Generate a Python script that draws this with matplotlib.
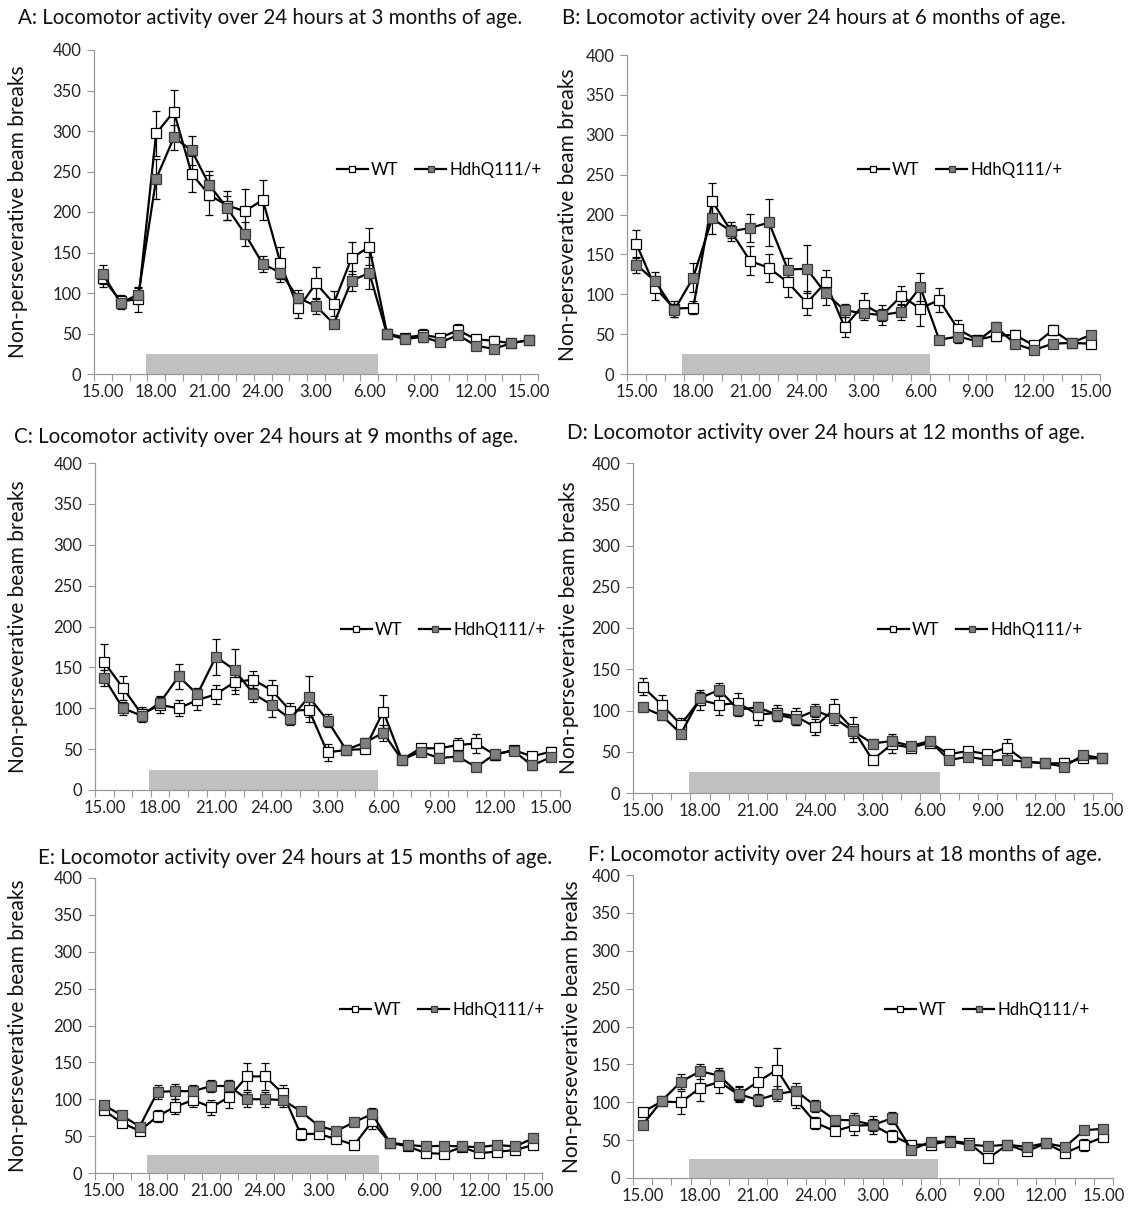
import numpy as np
import matplotlib
matplotlib.use("Agg")
import matplotlib.pyplot as plt
from matplotlib.lines import Line2D

plt.rcParams['font.family'] = ['Lato', 'DejaVu Sans']

hour_labels = ["15.00", "18.00", "21.00", "24.00", "3.00", "6.00", "9.00", "12.00", "15.00"]
n_bins = 25

titles = [
    "A: Locomotor activity over 24 hours at 3 months of age.",
    "B: Locomotor activity over 24 hours at 6 months of age.",
    "C: Locomotor activity over 24 hours at 9 months of age.",
    "D: Locomotor activity over 24 hours at 12 months of age.",
    "E: Locomotor activity over 24 hours at 15 months of age.",
    "F: Locomotor activity over 24 hours at 18 months of age.",
]

# mean beam breaks per hour bin, WT and HdhQ111/+
wt_3m = [118, 90, 92, 297, 324, 247, 221, 208, 201, 215, 137, 81, 112, 87, 143, 157, 50, 45, 48, 45, 54, 43, 41, 38, 42]
hdh_3m = [123, 88, 98, 241, 292, 276, 233, 205, 173, 136, 125, 94, 84, 62, 115, 125, 49, 43, 46, 39, 48, 35, 31, 38, 42]
wt_3m_err = [10, 8, 15, 28, 27, 22, 25, 18, 28, 25, 20, 12, 20, 15, 20, 23, 5, 5, 8, 5, 8, 5, 6, 5, 4]
hdh_3m_err = [12, 8, 8, 25, 15, 18, 18, 15, 15, 10, 12, 10, 10, 5, 12, 20, 5, 5, 5, 5, 5, 5, 5, 4, 4]

wt_6m = [163, 108, 82, 83, 217, 179, 142, 133, 115, 89, 115, 59, 87, 74, 98, 82, 93, 56, 43, 48, 49, 36, 55, 39, 38]
hdh_6m = [137, 116, 80, 121, 195, 179, 183, 190, 131, 132, 101, 80, 76, 74, 78, 109, 43, 47, 41, 59, 38, 30, 38, 39, 49]
wt_6m_err = [18, 15, 10, 8, 22, 12, 18, 18, 18, 15, 15, 12, 15, 12, 12, 22, 15, 12, 6, 6, 6, 5, 6, 5, 5]
hdh_6m_err = [10, 12, 8, 18, 20, 8, 18, 30, 15, 30, 15, 8, 8, 8, 10, 18, 5, 8, 5, 6, 5, 5, 5, 4, 5]

wt_9m = [156, 125, 93, 104, 100, 110, 117, 132, 135, 122, 97, 98, 46, 49, 50, 96, 37, 51, 51, 55, 57, 43, 49, 41, 47]
hdh_9m = [137, 100, 91, 107, 139, 117, 163, 147, 118, 104, 87, 114, 85, 49, 58, 70, 37, 47, 39, 41, 28, 44, 48, 30, 40]
wt_9m_err = [22, 15, 8, 10, 10, 12, 12, 15, 10, 12, 10, 15, 10, 5, 5, 20, 5, 5, 6, 8, 12, 6, 5, 6, 5]
hdh_9m_err = [10, 8, 8, 8, 15, 8, 22, 25, 10, 15, 8, 25, 8, 5, 6, 10, 5, 5, 5, 5, 5, 5, 5, 5, 5]

wt_12m = [129, 107, 83, 113, 107, 109, 95, 97, 93, 80, 102, 77, 40, 59, 55, 61, 47, 51, 47, 55, 38, 36, 36, 42, 42]
hdh_12m = [104, 94, 72, 115, 125, 101, 104, 95, 90, 100, 91, 75, 60, 63, 57, 63, 40, 44, 40, 40, 38, 36, 32, 46, 42]
wt_12m_err = [10, 12, 8, 12, 12, 12, 12, 10, 10, 10, 12, 15, 5, 10, 5, 5, 5, 5, 5, 10, 5, 5, 6, 5, 5]
hdh_12m_err = [5, 5, 5, 8, 8, 8, 6, 8, 8, 8, 8, 8, 5, 8, 5, 5, 5, 5, 5, 5, 4, 4, 5, 5, 4]

wt_15m = [85, 68, 57, 77, 90, 99, 89, 103, 131, 131, 108, 53, 53, 46, 38, 70, 41, 36, 27, 26, 35, 27, 29, 31, 38]
hdh_15m = [92, 78, 63, 110, 111, 111, 118, 118, 100, 100, 99, 84, 64, 57, 69, 80, 41, 38, 36, 37, 36, 35, 38, 36, 47]
wt_15m_err = [5, 5, 6, 8, 10, 10, 10, 15, 18, 18, 12, 8, 5, 5, 5, 10, 4, 4, 4, 4, 4, 4, 4, 4, 4]
hdh_15m_err = [5, 5, 5, 10, 10, 8, 8, 8, 10, 10, 10, 6, 6, 5, 5, 8, 4, 4, 4, 4, 4, 4, 4, 4, 6]

wt_18m = [87, 101, 100, 119, 127, 110, 127, 143, 103, 73, 62, 69, 70, 56, 44, 44, 49, 46, 26, 44, 35, 46, 33, 44, 54]
hdh_18m = [70, 102, 127, 141, 135, 111, 103, 111, 115, 95, 77, 76, 70, 79, 37, 48, 48, 44, 42, 44, 41, 46, 41, 63, 65]
wt_18m_err = [5, 5, 15, 18, 15, 10, 20, 28, 10, 8, 5, 12, 12, 8, 5, 5, 5, 5, 5, 4, 5, 4, 5, 8, 5]
hdh_18m_err = [5, 5, 10, 10, 10, 10, 8, 10, 10, 8, 5, 10, 8, 8, 4, 4, 4, 6, 4, 4, 4, 4, 4, 5, 5]

# dark phase (lights off) in hour-bin units, drawn as grey bar
dark_start = [2.4, 2.4, 2.4, 2.4, 2.4, 2.4]
dark_end = [15.5, 15.5, 14.7, 15.5, 15.4, 15.4]
dark_height = 25

wt_all = [wt_3m, wt_6m, wt_9m, wt_12m, wt_15m, wt_18m]
hdh_all = [hdh_3m, hdh_6m, hdh_9m, hdh_12m, hdh_15m, hdh_18m]
wt_err_all = [wt_3m_err, wt_6m_err, wt_9m_err, wt_12m_err, wt_15m_err, wt_18m_err]
hdh_err_all = [hdh_3m_err, hdh_6m_err, hdh_9m_err, hdh_12m_err, hdh_15m_err, hdh_18m_err]

W, H = 1141, 1214
fig = plt.figure(figsize=(W / 100, H / 100), dpi=100)

# axes boxes in pixels: left, right, top, bottom
boxes = [
    (94, 538, 50, 374),
    (627, 1100, 55, 374),
    (95, 560, 463, 790),
    (633, 1112, 463, 793),
    (95, 542, 878, 1173),
    (633, 1113, 875, 1178),
]
title_pos = [(18, 18), (562, 18), (14, 437), (567, 433), (38, 858), (588, 855)]
legend_pos = [(337, 170), (858, 170), (341, 630), (878, 630), (340, 1010), (885, 1010)]
ylabel_x = [18, 568, 18, 569, 18, 572]

wt_style = dict(color="black", lw=1.6, marker="s", mfc="white", mec="black", mew=0.9)
hdh_style = dict(color="black", lw=1.6, marker="s", mfc="#7f7f7f", mec="#3a3a3a", mew=0.9)

x = np.arange(n_bins)

for k in range(6):
    l, r, t, b = boxes[k]
    ax = fig.add_axes([l / W, 1 - b / H, (r - l) / W, (b - t) / H])

    ax.bar((dark_start[k] + dark_end[k]) / 2, dark_height, width=dark_end[k] - dark_start[k],
           color="#c0c0c0", zorder=1)

    ax.errorbar(x, wt_all[k], yerr=wt_err_all[k], elinewidth=0.9, capsize=3, capthick=0.9,
                ecolor="black", ms=7, zorder=3, **wt_style)
    ax.errorbar(x, hdh_all[k], yerr=hdh_err_all[k], elinewidth=0.9, capsize=3, capthick=0.9,
                ecolor="black", ms=7, zorder=3, **hdh_style)

    ax.set_xlim(-0.5, n_bins - 0.5)
    ax.set_ylim(0, 400)
    ax.set_yticks(np.arange(0, 401, 50))
    ax.set_xticks(np.arange(0, n_bins, 3))
    ax.set_xticklabels(hour_labels)
    ax.set_xticks(np.arange(-0.5, n_bins, 1), minor=True)
    ax.tick_params(axis="x", which="major", length=0, labelsize=12, pad=7, colors="#222222")
    ax.tick_params(axis="x", which="minor", length=5, width=0.8, color="#999999", direction="out")
    ax.tick_params(axis="y", length=5, width=0.8, color="#999999", labelsize=12, pad=4,
                   labelcolor="#222222")
    for s in ["top", "right"]:
        ax.spines[s].set_visible(False)
    for s in ["left", "bottom"]:
        ax.spines[s].set_color("#999999")
        ax.spines[s].set_linewidth(0.9)

    fig.text(title_pos[k][0] / W, 1 - title_pos[k][1] / H, titles[k], fontsize=14.8,
             ha="left", va="center", color="#111111")
    fig.text(ylabel_x[k] / W, 1 - ((t + b) / 2) / H, "Non-perseverative beam breaks",
             rotation=90, fontsize=15, ha="center", va="center", color="#111111")

    handles = [Line2D([], [], ms=5, **wt_style), Line2D([], [], ms=5, **hdh_style)]
    lx, ly = legend_pos[k]
    ax.legend(handles, ["WT", "HdhQ111/+"], loc="center left",
              bbox_to_anchor=((lx - l) / (r - l), (b - ly) / (b - t)),
              ncol=2, frameon=False, fontsize=12.2, handlelength=1.8, handletextpad=0.2,
              columnspacing=1.0, borderaxespad=0, borderpad=0)

fig.savefig("out.png", dpi=100, facecolor="white")
